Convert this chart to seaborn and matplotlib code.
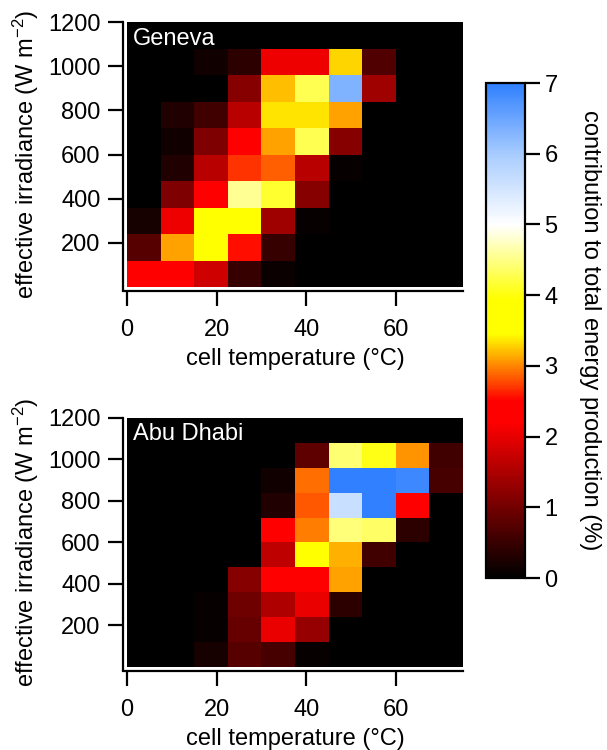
import numpy as np
import pandas as pd
import matplotlib
matplotlib.use("Agg")
import matplotlib.pyplot as plt
import seaborn as sns
from matplotlib.colors import LinearSegmentedColormap

# ---- data ----
temp_edges = [0, 7.5, 15, 22.5, 30, 37.5, 45, 52.5, 60, 67.5, 75]          # cell temperature bins (°C)
irr_edges = [0, 120, 240, 360, 480, 600, 720, 840, 960, 1080, 1200]       # irradiance bins (W m-2)
x_ticks = [0, 20, 40, 60]
y_ticks = [200, 400, 600, 800, 1000, 1200]
cbar_ticks = [0, 1, 2, 3, 4, 5, 6, 7]

# contribution to total energy production (%), rows from top (1080-1200) to bottom (0-120)
geneva = [
    [0, 0, 0, 0, 0, 0, 0, 0, 0, 0],
    [0, 0, 0.14, 0.41, 2.07, 2.07, 3.30, 0.69, 0, 0],
    [0, 0, 0, 1.17, 3.22, 4.28, 6.33, 1.38, 0, 0],
    [0, 0.28, 0.55, 1.59, 3.36, 3.36, 3.11, 0, 0, 0],
    [0, 0.14, 1.10, 2.35, 3.10, 4.28, 1.17, 0, 0, 0],
    [0, 0.28, 1.59, 2.68, 2.86, 1.59, 0.07, 0, 0, 0],
    [0, 1.10, 2.35, 4.54, 4.15, 1.17, 0, 0, 0, 0],
    [0.21, 2.07, 3.70, 3.70, 1.38, 0.07, 0, 0, 0, 0],
    [0.76, 3.10, 3.75, 2.56, 0.48, 0, 0, 0, 0, 0],
    [2.30, 2.30, 1.79, 0.48, 0.09, 0, 0, 0, 0, 0],
]
abu_dhabi = [
    [0, 0, 0, 0, 0, 0, 0, 0, 0, 0],
    [0, 0, 0, 0, 0, 0.83, 4.41, 4.02, 3.04, 0.55],
    [0, 0, 0, 0, 0.14, 2.92, 7.00, 7.00, 6.87, 0.62],
    [0, 0, 0, 0, 0.28, 2.83, 5.63, 7.00, 2.35, 0],
    [0, 0, 0, 0, 2.35, 2.98, 4.44, 4.35, 0.41, 0],
    [0, 0, 0, 0, 1.66, 3.70, 3.17, 0.55, 0, 0],
    [0, 0, 0, 1.17, 2.35, 2.35, 3.11, 0, 0, 0],
    [0, 0, 0.07, 0.97, 1.52, 2.05, 0.41, 0, 0, 0],
    [0, 0, 0.07, 0.90, 2.05, 1.31, 0, 0, 0, 0],
    [0, 0, 0.21, 0.76, 0.62, 0.07, 0, 0, 0, 0],
]
sites = ["Geneva", "Abu Dhabi"]

# ---- style ----
sns.set_theme(style="white")
plt.rcParams['font.family'] = ['Liberation Sans', 'DejaVu Sans']
plt.rcParams['mathtext.default'] = 'regular'
FS = 17

cmap = LinearSegmentedColormap.from_list(
    "ryw_blue",
    [(0.0, "#000000"), (2.2 / 7, "#ff0000"), (2.5 / 7, "#ff0000"),
     (3.45 / 7, "#ffff00"), (3.95 / 7, "#ffff00"), (5.0 / 7, "#ffffff"),
     (6.0 / 7, "#a8ccff"), (1.0, "#3080ff")])

fig = plt.figure(figsize=(6.07, 7.5), dpi=100)
ax1 = fig.add_axes([0.2092, 0.6173, 0.5536, 0.3533])
ax2 = fig.add_axes([0.2092, 0.1107, 0.5536, 0.332])
cax = fig.add_axes([0.8007, 0.2293, 0.0643, 0.66])

ncol = len(temp_edges) - 1
nrow = len(irr_edges) - 1
xpos = np.interp(x_ticks, temp_edges, np.arange(ncol + 1))
ypos = np.interp(y_ticks, irr_edges, nrow - np.arange(nrow + 1))

for i, (ax, data, name) in enumerate(zip([ax1, ax2], [geneva, abu_dhabi], sites)):
    df = pd.DataFrame(data, index=irr_edges[1:][::-1], columns=temp_edges[:-1])
    sns.heatmap(df, ax=ax, cmap=cmap, vmin=0, vmax=7,
                cbar=(i == 0), cbar_ax=cax if i == 0 else None,
                xticklabels=False, yticklabels=False)
    for s in ["top", "right"]:
        ax.spines[s].set_visible(False)
    for s in ["left", "bottom"]:
        ax.spines[s].set_visible(True)
        ax.spines[s].set_color("black")
        ax.spines[s].set_linewidth(1.6)
        ax.spines[s].set_position(("outward", 3))
    ax.spines["bottom"].set_bounds(-0.12, ncol)
    ax.spines["left"].set_bounds(0, nrow + 0.12)
    ax.set_xticks(xpos)
    ax.set_xticklabels([str(t) for t in x_ticks])
    ax.set_yticks(ypos)
    ax.set_yticklabels([str(t) for t in y_ticks], rotation=0)
    ax.tick_params(axis="both", direction="out", length=11, width=1.6,
                   colors="black", labelsize=FS, bottom=True, left=True)
    ax.tick_params(axis="x", pad=9)
    ax.tick_params(axis="y", pad=5)
    ax.set_xlabel("cell temperature (°C)", fontsize=FS, labelpad=5, color="black")
    ax.set_ylabel("effective irradiance (W m$^{-2}$)", fontsize=FS, labelpad=5, color="black")
    ax.text(0.018, 0.978, name, transform=ax.transAxes, color="white",
            fontsize=FS, ha="left", va="top")

cbar = ax1.collections[0].colorbar
cbar.set_ticks(cbar_ticks)
cbar.set_ticklabels([str(t) for t in cbar_ticks])
cbar.outline.set_visible(True)
cbar.outline.set_linewidth(1.6)
cbar.outline.set_edgecolor("black")
cbar.ax.tick_params(length=11, width=1.6, labelsize=FS, pad=3, direction="out",
                    right=True, colors="black")
cbar.set_label("contribution to total energy production (%)", rotation=270,
               fontsize=FS, labelpad=31, color="black")

fig.savefig("out.png", dpi=100)
